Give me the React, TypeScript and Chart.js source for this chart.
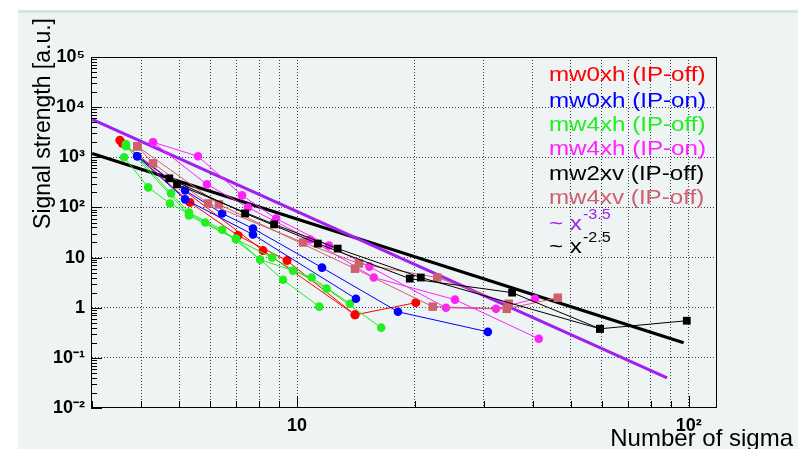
import React, { useEffect, useRef } from 'react';
import { Chart, registerables } from 'chart.js';

Chart.register(...registerables);

// ---- data (x = number of sigma, y = signal strength) ----
const red1 = [[3.53, 2188], [5.33, 126], [7.07, 27.5], [9.43, 8.7], [14.06, 0.72], [20.1, 1.26]];
const red2 = [[3.58, 1905], [8.19, 13.8], [14.06, 0.72]];
const blue1 = [[3.91, 1047], [5.18, 219], [6.44, 75.9], [7.72, 38], [11.58, 6.31], [18.1, 0.83], [30.7, 0.33]];
const blue2 = [[3.91, 1047], [5.18, 145], [7.72, 28.8], [14.14, 1.51]];
const green1 = [[3.62, 1000], [4.17, 251], [4.74, 120], [5.83, 50], [6.99, 24], [9.21, 3.6], [11.4, 1.05]];
const green2 = [[3.66, 1820], [4.77, 191], [5.3, 79], [6.44, 36], [8.05, 9.1], [9.77, 5.5], [10.9, 4.0], [13.65, 1.2]];
const green3 = [[3.66, 1660], [5.3, 69], [6.99, 23], [8.64, 10], [11.9, 2.4], [16.4, 0.4]];
const magenta1 = [[4.29, 1995], [5.59, 1047], [7.24, 174], [8.84, 60], [12.07, 17.4], [15.3, 6.6], [24.0, 1.0], [32.2, 0.95], [40.5, 1.51]];
const magenta2 = [[4.29, 1995], [5.89, 288], [7.5, 100], [10.8, 23], [15.7, 4.0], [25.3, 1.45], [41.4, 0.24]];
const black1 = [[4.72, 380], [7.37, 76], [11.3, 19], [19.4, 3.8], [35.4, 2.0], [59.3, 0.38], [98.8, 0.55]];
const black2 = [[4.94, 288], [8.74, 46], [12.7, 15.1], [20.7, 4.0], [59.3, 0.38]];
const pink1 = [[3.91, 1660], [4.29, 759], [5.93, 120], [10.36, 20], [14.39, 7.6], [22.8, 4.0], [34.7, 1.2]];
const pink2 = [[3.91, 1660], [6.32, 115], [14.06, 6.0], [22.2, 1.05], [34.3, 0.95], [46.3, 1.58]];
const powerLaw35 = [[3, 5700], [88, 0.04]];
const powerLaw25 = [[3, 1190], [97, 0.2]];

const xTickValues = [3, 4, 5, 6, 7, 8, 9, 10, 20, 30, 40, 50, 60, 70, 80, 90, 100];
const xTickLabels: Record<number, string> = { 10: '10', 100: '10\u00B2' };
const yDecades = [0.01, 0.1, 1, 10, 100, 1000, 10000, 100000];
const yDecadeLabels = ['10\u207B\u00B2', '10\u207B\u00B9', '1', '10', '10\u00B2', '10\u00B3', '10\u2074', '10\u2075'];
const yMinorMultipliers = [2, 3, 4, 5, 6, 7, 8, 9];

const legendLabels = ['mw0xh (IP-off)', 'mw0xh (IP-on)', 'mw4xh (IP-off)', 'mw4xh (IP-on)', 'mw2xv (IP-off)', 'mw4xv (IP-off)'];

// ---- styles ----
const RED = '#ff0000';
const BLUE = '#0000ff';
const GREEN = '#22ee22';
const MAGENTA = '#ff22ff';
const BLACK = '#000000';
const PINK = '#cf6070';
const PURPLE = '#a020f0';
const PANEL = '#eef3f4';
const GRID = '#444444';
const legendColors = [RED, BLUE, GREEN, MAGENTA, BLACK, PINK];

const isDecade = (v: number) => Math.abs(Math.log10(v) - Math.round(Math.log10(v))) < 1e-6;

const toPts = (arr: number[][]) => arr.map(([x, y]) => ({ x, y }));

function markerSet(data: number[][], color: string, style: string, radius: number) {
  return {
    data: toPts(data),
    showLine: true,
    borderColor: color,
    backgroundColor: color,
    borderWidth: 1,
    pointStyle: style,
    pointRadius: radius,
    pointBorderWidth: 0,
    pointBackgroundColor: color,
  };
}

function powerSet(data: number[][], color: string) {
  return {
    data: toPts(data),
    showLine: true,
    borderColor: color,
    backgroundColor: color,
    borderWidth: 3,
    pointRadius: 0,
  };
}

function stretchedText(ctx: CanvasRenderingContext2D, text: string, x: number, y: number, font: string, color: string, sx: number) {
  ctx.save();
  ctx.translate(x, y);
  ctx.scale(sx, 1);
  ctx.font = font;
  ctx.fillStyle = color;
  ctx.textAlign = 'left';
  ctx.textBaseline = 'middle';
  ctx.fillText(text, 0, 0);
  ctx.restore();
}

const rootPlugin = {
  id: 'rootStyle',
  beforeDraw(chart: any) {
    const { ctx, width, height } = chart;
    ctx.save();
    ctx.fillStyle = '#ffffff';
    ctx.fillRect(0, 0, width, height);
    ctx.fillStyle = '#dbe2e4';
    ctx.fillRect(18, 10, width - 18, 3);
    ctx.fillStyle = PANEL;
    ctx.fillRect(18, 13, width - 18, height - 13);
    ctx.restore();
  },
  afterDraw(chart: any) {
    const { ctx, chartArea } = chart;
    const { left, right, top, bottom } = chartArea;
    ctx.save();
    // inside tick marks
    ctx.strokeStyle = '#000';
    ctx.lineWidth = 1;
    ctx.beginPath();
    for (const t of chart.scales.y.ticks) {
      const py = Math.round(chart.scales.y.getPixelForValue(t.value)) + 0.5;
      const len = isDecade(t.value) ? 11 : 6;
      ctx.moveTo(left, py);
      ctx.lineTo(left + len, py);
    }
    for (const t of chart.scales.x.ticks) {
      const px = Math.round(chart.scales.x.getPixelForValue(t.value)) + 0.5;
      const len = isDecade(t.value) ? 12 : 7;
      ctx.moveTo(px, bottom);
      ctx.lineTo(px, bottom - len);
    }
    ctx.stroke();
    // frame
    ctx.strokeRect(left + 0.5, top + 0.5, right - left - 1, bottom - top - 1);

    // legend text
    const lx = 549;
    const lys = [75, 101, 125, 149, 174, 198];
    const f = '21px "Liberation Sans", Arial, sans-serif';
    const fs = '14px "Liberation Sans", Arial, sans-serif';
    legendLabels.forEach((lab, i) => {
      stretchedText(ctx, lab, lx, lys[i], f, legendColors[i], 1.15);
    });
    stretchedText(ctx, '~ x', lx, 224, f, PURPLE, 1.15);
    stretchedText(ctx, '-3.5', lx + 34, 215, fs, PURPLE, 1.15);
    stretchedText(ctx, '~ x', lx, 247, f, BLACK, 1.15);
    stretchedText(ctx, '-2.5', lx + 34, 238, fs, BLACK, 1.15);

    // axis titles
    ctx.fillStyle = '#000';
    ctx.font = '24px "Liberation Sans", Arial, sans-serif';
    ctx.textAlign = 'right';
    ctx.textBaseline = 'alphabetic';
    ctx.fillText('Number of sigma', 793, 446);

    ctx.translate(50, 18);
    ctx.rotate(-Math.PI / 2);
    ctx.font = '23px "Liberation Sans", Arial, sans-serif';
    ctx.textAlign = 'right';
    ctx.textBaseline = 'alphabetic';
    ctx.fillText('Signal strength [a.u.]', 0, 0);
    ctx.restore();
  },
};

export default function App() {
  const canvasRef = useRef<HTMLCanvasElement | null>(null);

  useEffect(() => {
    if (!canvasRef.current) return;
    const datasets: any[] = [
      markerSet(black1, BLACK, 'rect', 5.5),
      markerSet(black2, BLACK, 'rect', 5.5),
      markerSet(pink1, PINK, 'rect', 6),
      markerSet(pink2, PINK, 'rect', 6),
      markerSet(magenta1, MAGENTA, 'circle', 4.3),
      markerSet(magenta2, MAGENTA, 'circle', 4.3),
      markerSet(blue1, BLUE, 'circle', 4.3),
      markerSet(blue2, BLUE, 'circle', 4.3),
      markerSet(green1, GREEN, 'circle', 4.3),
      markerSet(green2, GREEN, 'circle', 4.3),
      markerSet(green3, GREEN, 'circle', 4.3),
      markerSet(red1, RED, 'circle', 4.5),
      markerSet(red2, RED, 'circle', 4.5),
      powerSet(powerLaw35, PURPLE),
      powerSet(powerLaw25, BLACK),
    ];

    const xGridColor = (c: any) => {
      const v = c && c.tick ? c.tick.value : (c && typeof c.index === 'number' ? xTickValues[c.index] : 0);
      return v > 3.5 ? GRID : 'rgba(0,0,0,0)';
    };
    const yGridColor = (c: any) => {
      const v = c && c.tick ? c.tick.value : 0;
      return v > 0.011 && v < 99999 && isDecade(v) ? GRID : 'rgba(0,0,0,0)';
    };

    const chart = new Chart(canvasRef.current, {
      type: 'scatter',
      data: { datasets },
      options: {
        animation: false,
        responsive: false,
        maintainAspectRatio: false,
        devicePixelRatio: 1,
        layout: { padding: { left: 18, right: 81, top: 57, bottom: 0 } },
        plugins: { legend: { display: false }, tooltip: { enabled: false } },
        scales: {
          x: {
            type: 'logarithmic',
            min: 2.98,
            max: 118,
            afterBuildTicks: (scale: any) => {
              scale.ticks = xTickValues.map((v) => ({ value: v }));
            },
            afterFit: (scale: any) => {
              scale.height = 41;
            },
            ticks: {
              autoSkip: false,
              maxRotation: 0,
              padding: 7,
              color: '#000',
              font: { family: '"Liberation Sans", Arial, sans-serif', size: 18, weight: 'bold' },
              callback: (v: any) => xTickLabels[Number(v)] ?? '',
            },
            grid: {
              display: true,
              drawOnChartArea: true,
              drawTicks: false,
              lineWidth: 1,
              color: xGridColor,
            },
            border: { display: true, color: 'rgba(0,0,0,0)', width: 1, dash: [1, 2] },
          },
          y: {
            type: 'logarithmic',
            min: 0.01,
            max: 100000,
            afterBuildTicks: (scale: any) => {
              const vals: number[] = [];
              yDecades.forEach((d, i) => {
                vals.push(d);
                if (i < yDecades.length - 1) yMinorMultipliers.forEach((m) => vals.push(Number((m * d).toPrecision(3))));
              });
              scale.ticks = vals.map((v) => ({ value: v }));
            },
            afterFit: (scale: any) => {
              scale.width = 73;
            },
            ticks: {
              autoSkip: false,
              padding: 6,
              color: '#000',
              font: { family: '"Liberation Sans", Arial, sans-serif', size: 18, weight: 'bold' },
              callback: (v: any) => {
                const idx = yDecades.findIndex((d) => Math.abs(d - Number(v)) / d < 1e-6);
                return idx >= 0 ? yDecadeLabels[idx] : '';
              },
            },
            grid: {
              display: true,
              drawOnChartArea: true,
              drawTicks: false,
              lineWidth: 1,
              color: yGridColor,
            },
            border: { display: true, color: 'rgba(0,0,0,0)', width: 1, dash: [1, 2] },
          },
        },
      } as any,
      plugins: [rootPlugin],
    });
    return () => chart.destroy();
  }, []);

  return (
    <div style={{ position: 'absolute', left: 0, top: 0, width: 798, height: 449 }}>
      <canvas ref={canvasRef} width={798} height={449} style={{ display: 'block', width: 798, height: 449 }} />
    </div>
  );
}
